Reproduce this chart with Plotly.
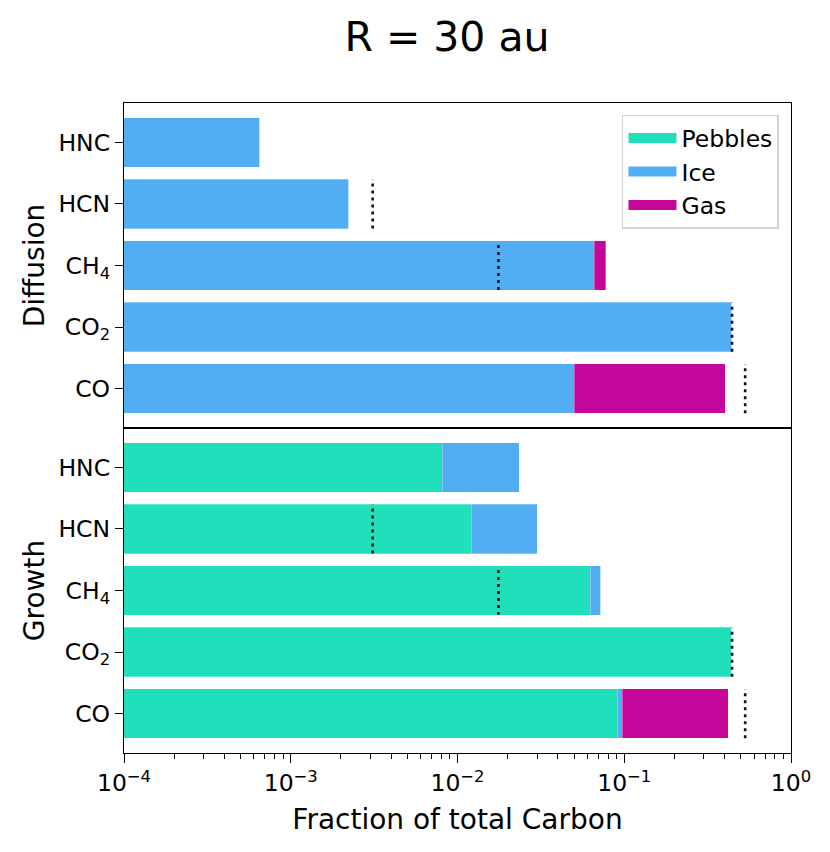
import plotly.graph_objects as go
from plotly.subplots import make_subplots

# molecules, bottom to top
molecules = ["CO", "CO<sub>2</sub>", "CH<sub>4</sub>", "HCN", "HNC"]

# Diffusion panel: carbon fraction per reservoir (stacked segments)
diff_pebbles = [0.0, 0.0, 0.0, 0.0, 0.0]
diff_ice = [0.050, 0.441, 0.066, 0.00222, 0.00065]
diff_gas = [0.354, 0.0, 0.0114, 0.0, 0.0]

# Growth panel
grow_pebbles = [0.091, 0.441, 0.0626, 0.0121, 0.0081]
grow_ice = [0.006, 0.0, 0.0098, 0.018, 0.0153]
grow_gas = [0.323, 0.0, 0.0, 0.0, 0.0]

# reference totals (dotted markers), None where absent
ref_total = [0.531, 0.443, 0.0176, 0.0031, None]

x_tickvals = [1e-4, 1e-3, 1e-2, 1e-1, 1e0]
x_ticktext = ["10<sup>\u22124</sup>", "10<sup>\u22123</sup>", "10<sup>\u22122</sup>",
              "10<sup>\u22121</sup>", "10<sup>0</sup>"]

colors = {"Pebbles": "#20dfbb", "Ice": "#52aef3", "Gas": "#c5069a"}
FONT = "DejaVu Sans"

fig = make_subplots(rows=2, cols=1, shared_xaxes=True, vertical_spacing=0)

ypos = list(range(len(molecules)))

panels = [
    (1, {"Pebbles": diff_pebbles, "Ice": diff_ice, "Gas": diff_gas}),
    (2, {"Pebbles": grow_pebbles, "Ice": grow_ice, "Gas": grow_gas}),
]

for row, parts in panels:
    for name, vals in parts.items():
        fig.add_trace(
            go.Bar(
                x=vals,
                y=ypos,
                orientation="h",
                width=0.8,
                name=name,
                marker=dict(color=colors[name], line=dict(width=0.6, color="rgba(255,255,255,0.5)")),
                showlegend=False,
                legendgroup=name,
            ),
            row=row,
            col=1,
        )
    # dotted reference lines
    xs, ys = [], []
    for i, v in enumerate(ref_total):
        if v is None:
            continue
        xs += [v, v, None]
        ys += [i - 0.4, i + 0.4, None]
    fig.add_trace(
        go.Scatter(
            x=xs,
            y=ys,
            mode="lines",
            line=dict(color="#111111", width=2.6, dash="3px,4px"),
            showlegend=False,
            hoverinfo="skip",
        ),
        row=row,
        col=1,
    )

# legend-only entries, thick lines give wide rectangular swatches like matplotlib
for name, c in colors.items():
    fig.add_trace(
        go.Scatter(
            x=[None],
            y=[None],
            mode="lines",
            line=dict(color=c, width=17),
            name=name,
            legendgroup=name,
            showlegend=True,
        ),
        row=1,
        col=1,
    )

# page body adds ~8px offset, margins compensate
fig.update_layout(
    width=830,
    height=852,
    barmode="stack",
    bargap=0.2,
    plot_bgcolor="white",
    paper_bgcolor="white",
    font=dict(family=FONT, size=23.5, color="black"),
    margin=dict(l=116, r=47, t=95, b=107),
    title=dict(
        text="R = 30 au",
        font=dict(size=41, family=FONT, color="black"),
        x=439 / 830,
        xanchor="center",
        xref="container",
        y=1 - 29 / 852,
        yanchor="middle",
        yref="container",
    ),
    legend=dict(
        x=0.982,
        y=0.982,
        xanchor="right",
        yanchor="top",
        bgcolor="white",
        bordercolor="#d3d3d3",
        borderwidth=1.5,
        font=dict(size=23.5, family=FONT),
        traceorder="normal",
        tracegroupgap=4,
        itemwidth=48,
    ),
)

axis_line = dict(showline=True, linecolor="black", linewidth=1.4, mirror=True, showgrid=False, zeroline=False)

for row, label in [(1, "Diffusion"), (2, "Growth")]:
    fig.update_yaxes(
        range=[-0.64, 4.64],
        tickvals=ypos,
        ticktext=molecules,
        ticks="outside",
        ticklen=8,
        tickwidth=1.4,
        tickcolor="black",
        title=dict(text=label, font=dict(size=28, family=FONT), standoff=5),
        row=row,
        col=1,
        **axis_line,
    )

minor_vals = [m * 10.0 ** e for e in range(-4, 0) for m in range(2, 10)]

fig.update_xaxes(
    type="log",
    range=[-4, 0],
    tickvals=x_tickvals,
    ticktext=x_ticktext,
    showticklabels=False,
    ticks="",
    row=1,
    col=1,
    **axis_line,
)
fig.update_xaxes(
    type="log",
    range=[-4, 0],
    tickvals=x_tickvals,
    ticktext=x_ticktext,
    ticks="outside",
    ticklen=9,
    tickwidth=1.4,
    tickcolor="black",
    minor=dict(tickvals=minor_vals, ticks="outside", ticklen=5, tickwidth=1.1, tickcolor="black", showgrid=False),
    tickfont=dict(size=23.5, family=FONT),
    title=dict(text="Fraction of total Carbon", font=dict(size=28, family=FONT), standoff=12),
    row=2,
    col=1,
    **axis_line,
)

fig.write_html("out.html")
